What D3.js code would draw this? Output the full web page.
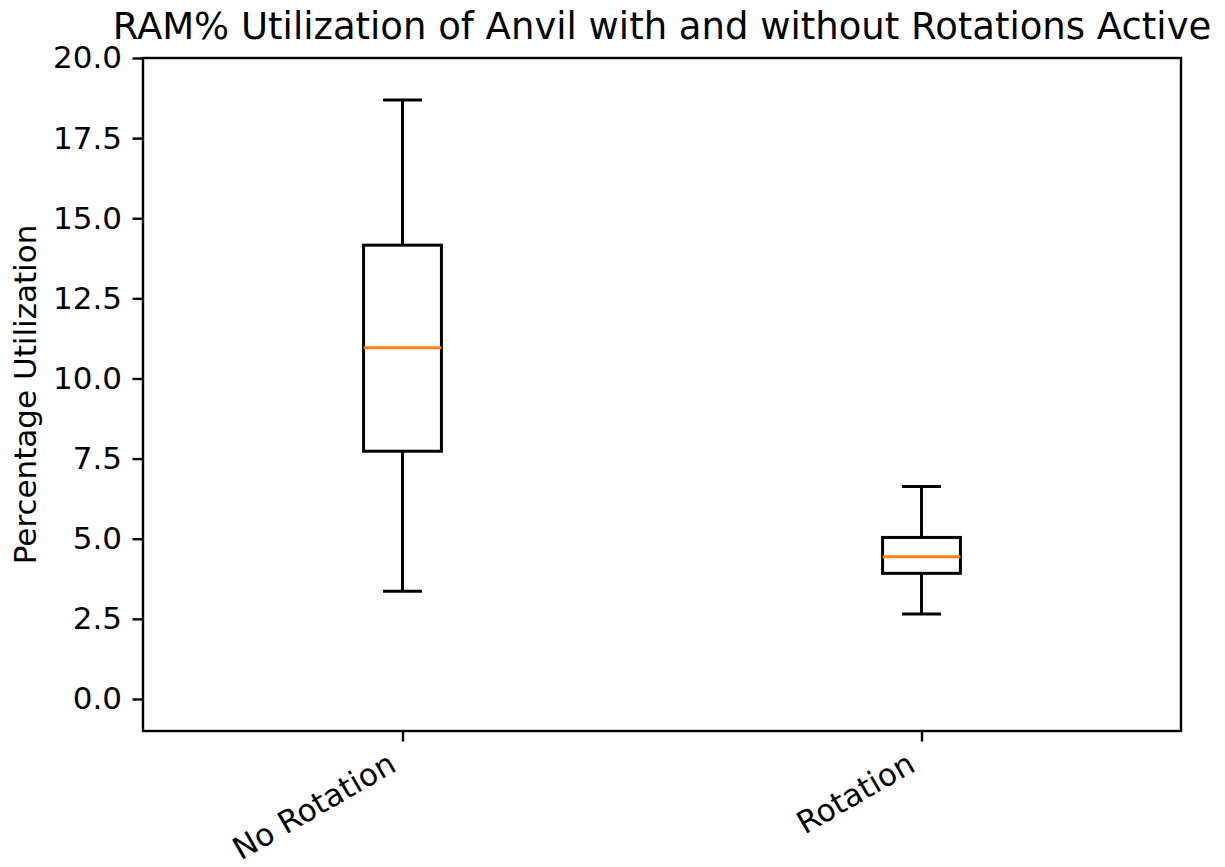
<!DOCTYPE html>
<html>
<head>
<meta charset="utf-8">
<script src="https://cdn.jsdelivr.net/npm/d3@7"></script>
<style>
  body { margin: 0; background: #fff; }
  text { font-family: "DejaVu Sans", sans-serif; fill: #000; }
</style>
</head>
<body>
<script>
// box plot values
const categories  = ["No Rotation", "Rotation"];
const whiskerLow  = [3.36, 2.65];
const q1          = [7.73, 3.92];
const medians     = [10.96, 4.44];
const q3          = [14.16, 5.04];
const whiskerHigh = [18.69, 6.63];
const yTicks      = [0, 2.5, 5, 7.5, 10, 12.5, 15, 17.5, 20];

const width = 1225, height = 867;
const margin = { top: 58, right: 44, bottom: 136, left: 143 };

const svg = d3.select("body").append("svg")
  .attr("width", width)
  .attr("height", height);

const x = d3.scaleLinear()
  .domain([0.5, 2.5])
  .range([margin.left, width - margin.right]);

const y = d3.scaleLinear()
  .domain([-1, 20])
  .range([height - margin.bottom, margin.top]);

const boxes = categories.map((c, i) => ({
  name: c, pos: i + 1,
  lo: whiskerLow[i], q1: q1[i], med: medians[i], q3: q3[i], hi: whiskerHigh[i]
}));

const boxW = x(1.075) - x(0.925);
const capW = boxW / 2;

// axes
const yAxis = svg.append("g")
  .attr("transform", `translate(${margin.left},0)`)
  .call(d3.axisLeft(y).tickValues(yTicks).tickFormat(d3.format(".1f")).tickSize(10.5).tickPadding(10.5));

const xAxis = svg.append("g")
  .attr("transform", `translate(0,${height - margin.bottom})`)
  .call(d3.axisBottom(x).tickValues([1, 2]).tickFormat((d, i) => categories[i]).tickSize(10.5));

[yAxis, xAxis].forEach(g => {
  g.select(".domain").remove();
  g.selectAll(".tick line").attr("stroke", "#000").attr("stroke-width", 2.4);
  g.selectAll(".tick text").attr("font-size", 31).attr("fill", "#000");
});

xAxis.selectAll(".tick text")
  .attr("text-anchor", "end")
  .attr("dy", null)
  .attr("y", 0)
  .attr("transform", "translate(-5,39) rotate(-30)");

// frame
svg.append("rect")
  .attr("x", margin.left)
  .attr("y", margin.top)
  .attr("width", width - margin.left - margin.right)
  .attr("height", height - margin.top - margin.bottom)
  .attr("fill", "none")
  .attr("stroke", "#000")
  .attr("stroke-width", 2.4);

// boxes
const g = svg.selectAll(".box")
  .data(boxes)
  .enter()
  .append("g")
  .attr("class", "box");

const line = (sel, x1, y1, x2, y2, color) => sel.append("line")
  .attr("x1", x1).attr("y1", y1).attr("x2", x2).attr("y2", y2)
  .attr("stroke", color || "#000")
  .attr("stroke-width", 3);

g.each(function(d) {
  const s = d3.select(this);
  const cx = x(d.pos);
  line(s, cx, y(d.q3), cx, y(d.hi));
  line(s, cx, y(d.q1), cx, y(d.lo));
  line(s, cx - capW / 2, y(d.hi), cx + capW / 2, y(d.hi));
  line(s, cx - capW / 2, y(d.lo), cx + capW / 2, y(d.lo));
  s.append("rect")
    .attr("x", cx - boxW / 2)
    .attr("y", y(d.q3))
    .attr("width", boxW)
    .attr("height", y(d.q1) - y(d.q3))
    .attr("fill", "none")
    .attr("stroke", "#000")
    .attr("stroke-width", 3);
  line(s, cx - boxW / 2, y(d.med), cx + boxW / 2, y(d.med), "#ff7f0e");
});

// title + label
svg.append("text")
  .attr("x", (margin.left + width - margin.right) / 2)
  .attr("y", 39)
  .attr("text-anchor", "middle")
  .attr("font-size", 37)
  .text("RAM% Utilization of Anvil with and without Rotations Active");

svg.append("text")
  .attr("transform", `translate(36,${(margin.top + height - margin.bottom) / 2}) rotate(-90)`)
  .attr("text-anchor", "middle")
  .attr("font-size", 31)
  .text("Percentage Utilization");
</script>
</body>
</html>
